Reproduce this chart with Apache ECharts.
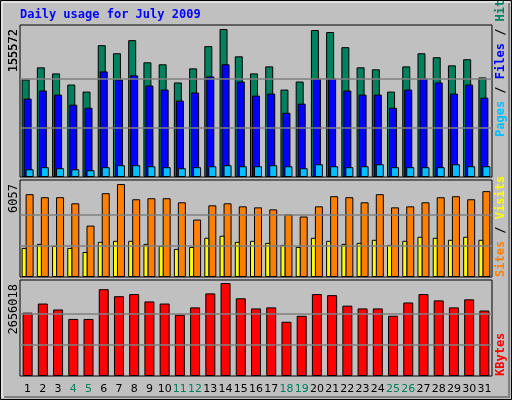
<!DOCTYPE html>
<html><head><meta charset="utf-8">
<script src="https://cdn.jsdelivr.net/npm/echarts@6/dist/echarts.min.js"></script>
<style>html,body{margin:0;padding:0;background:#c0c0c0}#c{width:512px;height:400px}</style>
</head><body><div id="c"></div>
<script>
const days = ['1','2','3','4','5','6','7','8','9','10','11','12','13','14','15','16','17','18','19','20','21','22','23','24','25','26','27','28','29','30','31'];
const weekend = ['4','5','11','12','18','19','25','26'];
const hits = [102500,115300,108900,97200,89800,138600,130100,143900,120600,118500,99400,114200,137600,155572,126900,108900,116300,91900,100400,154500,152400,136500,115300,113200,89800,116300,130100,125900,117400,123800,104700];
const files = [82400,90900,86600,76000,72800,111000,102500,106800,96200,91900,80300,88800,105700,118500,100400,85600,87700,67500,77100,103600,103600,90900,86600,86600,72800,91900,103600,99400,87700,97200,83400];
const pages = [8100,10300,9200,8100,7100,10300,12400,12400,11300,10300,9200,10300,11300,12400,11300,11300,12400,11300,9200,13400,11300,10300,11300,13400,10300,10300,10300,10300,13400,11300,11300];
const visits = [5396,5198,5198,4801,3348,5462,6057,5066,5132,5132,4867,3744,4669,4801,4603,4537,4405,4075,3942,4603,5264,5198,4867,5396,4537,4603,4867,5198,5264,5066,5594];
const sites = [1894,2158,2026,1894,1630,2291,2357,2357,2158,2026,1828,1960,2555,2687,2291,2357,2224,2092,1960,2555,2357,2158,2224,2423,2092,2357,2621,2555,2423,2621,2423];
const kbytes = [1810000,2070000,1900000,1630000,1630000,2480000,2280000,2340000,2130000,2070000,1750000,1960000,2360000,2656018,2220000,1930000,1960000,1550000,1720000,2340000,2310000,2010000,1930000,1930000,1720000,2100000,2340000,2160000,1960000,2190000,1870000];
const maxHits = 155572, maxVisits = 6057, maxKB = 2656018;

const ch = echarts.init(document.getElementById('c'));
const font = 'DejaVu Sans Mono';
const bs = {borderColor:'#000',borderWidth:1};
function xa(i, show){return {type:'category',data:days,gridIndex:i,axisTick:{show:false},axisLine:{show:false},
  axisLabel:{show:show,interval:0,margin:8,fontFamily:'DejaVu Sans',fontSize:11,
    color:(v)=>weekend.includes(v)?'#00805c':'#000'}};}
function ya(i,max){return {type:'value',gridIndex:i,min:0,max:max,splitLine:{show:false},axisLabel:{show:false},axisLine:{show:false},axisTick:{show:false}};}
function ml(vals){return {silent:true,symbol:'none',label:{show:false},lineStyle:{color:'#808080',type:'solid',width:1.5},data:vals.map(v=>({yAxis:v}))};}
const rotText=(x,y,txt,color,size)=>({type:'text',x:x,y:y,rotation:Math.PI/2,style:{text:txt,fill:color,font:size+'px '+font,textAlign:'right',textVerticalAlign:'middle'}});
ch.setOption({
  animation:false,
  backgroundColor:'#c0c0c0',
  grid:[
    {left:20,right:20,top:25,height:152,show:true,borderColor:'#000',borderWidth:1,backgroundColor:'#c0c0c0'},
    {left:20,right:20,top:180,height:97,show:true,borderColor:'#000',borderWidth:1,backgroundColor:'#c0c0c0'},
    {left:20,right:20,top:280,height:96,show:true,borderColor:'#000',borderWidth:1,backgroundColor:'#c0c0c0'}
  ],
  xAxis:[xa(0,false),xa(1,false),xa(2,true)],
  yAxis:[ya(0,maxHits*151/147),ya(1,maxVisits*96/92),ya(2,maxKB*95/92)],
  series:[
    {type:'bar',xAxisIndex:0,yAxisIndex:0,data:hits,barWidth:8,barGap:'-75%',itemStyle:Object.assign({color:'#00805c'},bs),markLine:ml([maxHits/3,maxHits*2/3]),z:1},
    {type:'bar',xAxisIndex:0,yAxisIndex:0,data:files,barWidth:8,barGap:'-75%',itemStyle:Object.assign({color:'#0000ff'},bs),z:3},
    {type:'bar',xAxisIndex:0,yAxisIndex:0,data:pages,barWidth:8,barGap:'-75%',itemStyle:Object.assign({color:'#00c0ff'},bs),z:4},
    {type:'bar',xAxisIndex:1,yAxisIndex:1,data:sites,barWidth:5,barGap:'-20%',itemStyle:Object.assign({color:'#ffff00'},bs),markLine:ml([maxVisits/3,maxVisits*2/3]),z:3},
    {type:'bar',xAxisIndex:1,yAxisIndex:1,data:visits,barWidth:8,barGap:'-20%',itemStyle:Object.assign({color:'#ff8000'},bs),z:2},
    {type:'bar',xAxisIndex:2,yAxisIndex:2,data:kbytes,barWidth:10,itemStyle:Object.assign({color:'#ff0000'},bs),markLine:ml([maxKB/3,maxKB*2/3]),z:2}
  ],
  graphic:[
    {type:'rect',shape:{x:0.5,y:0.5,width:511,height:399},style:{fill:'none',stroke:'#000',lineWidth:1},z:-1},
    {type:'rect',shape:{x:2,y:2,width:507,height:395},style:{fill:'none',stroke:'#fff',lineWidth:1},z:-1},
    {type:'polyline',shape:{points:[[4,397],[509,397],[509,3]]},style:{stroke:'#808080',lineWidth:2,fill:'none'},z:-1},
    {type:'text',x:20,y:15,style:{text:'Daily usage for July 2009',fill:'#0000ff',font:'bold 12px '+font,textVerticalAlign:'middle'}},
    Object.assign(rotText(14,29,'155572','#000',12),{rotation:Math.PI/2,style:{text:'155572',fill:'#000',font:'12px '+font,textAlign:'right',textVerticalAlign:'middle'}}),
    {type:'text',x:14,y:29,rotation:Math.PI/2,style:{text:'155572',fill:'#000',font:'12px '+font,textAlign:'right',textVerticalAlign:'middle'}},
    {type:'text',x:14,y:184,rotation:Math.PI/2,style:{text:'6057',fill:'#000',font:'12px '+font,textAlign:'right',textVerticalAlign:'middle'}},
    {type:'text',x:14,y:284,rotation:Math.PI/2,style:{text:'2656018',fill:'#000',font:'12px '+font,textAlign:'right',textVerticalAlign:'middle'}},
    {type:'text',x:501,y:137,rotation:Math.PI/2,style:{text:'{p|Pages}{s| / }{f|Files}{s| / }{h|Hits}',font:'bold 12px '+font,textAlign:'left',textVerticalAlign:'middle',
      rich:{p:{fill:'#00c0ff',font:'bold 12px '+font},f:{fill:'#0000ff',font:'bold 12px '+font},h:{fill:'#00805c',font:'bold 12px '+font},s:{fill:'#000',font:'bold 12px '+font}}}},
    {type:'text',x:501,y:277,rotation:Math.PI/2,style:{text:'{a|Sites}{s| / }{b|Visits}',font:'bold 12px '+font,textAlign:'left',textVerticalAlign:'middle',
      rich:{a:{fill:'#ff8000',font:'bold 12px '+font},b:{fill:'#ffff00',font:'bold 12px '+font},s:{fill:'#000',font:'bold 12px '+font}}}},
    {type:'text',x:501,y:376,rotation:Math.PI/2,style:{text:'KBytes',fill:'#ff0000',font:'bold 12px '+font,textAlign:'left',textVerticalAlign:'middle'}}
  ]
});
</script></body></html>
